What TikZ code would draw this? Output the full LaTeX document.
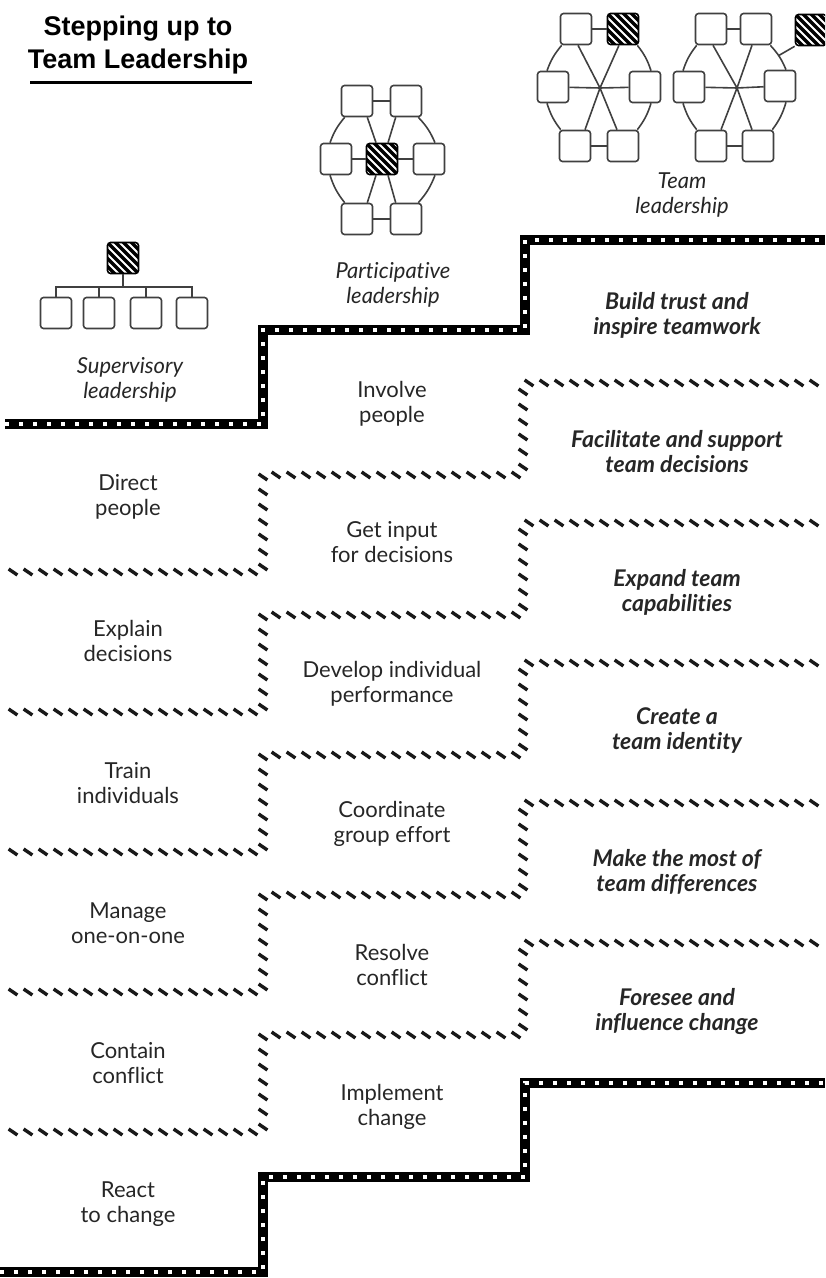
\documentclass[tikz,border=0pt]{standalone}
\usepackage{fontspec}
\setmainfont{Lato}[Ligatures=NoCommon]
\newfontfamily\headfont{Liberation Sans}
\usetikzlibrary{calc, decorations.markings}

\begin{document}
\begin{tikzpicture}[x=0.5pt, y=-0.5pt,
  box/.style={rectangle, draw=black!75, line width=0.8pt, fill=white, rounded corners=1.5pt, minimum size=15.5pt, inner sep=0pt},
  leadbox/.style={box, draw=black, fill=black, path picture={
      \foreach \k in {-5,...,4}
        \draw[white, line width=1pt] ($(path picture bounding box.north west)+(\k*4pt,2pt)$) -- ++(20pt,-20pt);}},
  link/.style={draw=black!75, line width=0.8pt},
  headline/.style={align=center, font=\headfont\bfseries\fontsize{13.5}{16.5}\selectfont},
  stepnote/.style={align=center, text=black!85, font=\fontsize{11}{12.5}\selectfont},
  teamnote/.style={stepnote, font=\fontsize{11.5}{12.5}\selectfont\bfseries\itshape},
  levelname/.style={stepnote, font=\fontsize{11}{12.5}\selectfont\itshape},
  stairline/.style={white, line width=2pt, dash pattern=on 2pt off 5pt, preaction={draw, black, solid, line width=5pt}},
  hatchline/.style={postaction={decorate, decoration={markings, mark=between positions 0 and 1 step 7.5pt with {\pgftransformresetnontranslations \draw[line width=1.7pt, black!90] (-2.2pt,1.5pt) -- (2.2pt,-1.5pt);}}}},
]
  \clip (0,0) rectangle (825,1278);

  % title
  \node[headline] (title) at (138,45) {Stepping up to\\Team Leadership};
  \draw[line width=1.5pt] (30,83) -- (252,83);

  % stairs
  \draw[stairline] (5,424) -- (263,424) -- (263,330) -- (525,330) -- (525,240) -- (825,240);
  \foreach \yl/\ym/\yr in {572/475/383, 712/615/523, 852/755/663, 992/895/803, 1132/1035/943}
    \path[hatchline] (13,\yl) -- (263,\yl) -- (263,\ym) -- (523,\ym) -- (523,\yr) -- (815,\yr);
  \draw[stairline] (0,1272) -- (263,1272) -- (263,1177) -- (525,1177) -- (525,1083) -- (825,1083);

  % supervisory
  \node[leadbox] (sd) at (123,258) {};
  \node[box] (s1) at (56,313) {};
  \node[box] (s2) at (99,313) {};
  \node[box] (s3) at (146,313) {};
  \node[box] (s4) at (192,313) {};
  \coordinate (sbus) at (123,287);
  \draw[link] (sd) -- (sbus);
  \draw[link] (s1.north) |- (sbus) -| (s4.north);
  \draw[link] (s2.north) -- (s2.north |- sbus);
  \draw[link] (s3.north) -- (s3.north |- sbus);

  % participative
  \node[box] (p1) at (357,101) {};
  \node[box] (p2) at (406,101) {};
  \node[box] (p3) at (336,159) {};
  \node[leadbox] (pc) at (382,159) {};
  \node[box] (p4) at (429,159) {};
  \node[box] (p5) at (357,219) {};
  \node[box] (p6) at (406,219) {};
  \draw[link] (p1) -- (p2);
  \draw[link] (p5) -- (p6);
  \draw[link] (p3) -- (pc) -- (p4);
  \draw[link] ([xshift=-3pt]p1.south east) -- ([xshift=-3pt]pc.north);
  \draw[link] ([xshift=3pt]p2.south west) -- ([xshift=3pt]pc.north);
  \draw[link] ([xshift=-3pt]p5.north east) -- ([xshift=-3pt]pc.south);
  \draw[link] ([xshift=3pt]p6.north west) -- ([xshift=3pt]pc.south);
  \draw[link] ([xshift=2pt]p1.south west) to[bend right=10] ([xshift=-3pt]p3.north);
  \draw[link] ([xshift=-3pt]p3.south) to[bend right=10] ([xshift=2pt]p5.north west);
  \draw[link] ([xshift=-2pt]p2.south east) to[bend left=10] ([xshift=3pt]p4.north);
  \draw[link] ([xshift=3pt]p4.south) to[bend left=10] ([xshift=-2pt]p6.north east);

  % team, first group
  \coordinate (tah) at (600,88);
  \node[box] (ta1) at (576,29) {};
  \node[leadbox] (ta2) at (623,29) {};
  \node[box] (ta3) at (553,87) {};
  \node[box] (ta4) at (645,87) {};
  \node[box] (ta5) at (575,146) {};
  \node[box] (ta6) at (623,146) {};
  \draw[link] (ta1) -- (ta2);
  \draw[link] (ta5) -- (ta6);
  \draw[link] (ta3) -- (tah) -- (ta4);
  \draw[link] ([xshift=1pt]ta1.south) -- (tah) -- ([xshift=-2pt]ta2.south);
  \draw[link] ([xshift=5pt]ta5.north) -- (tah) -- ([xshift=-3pt]ta6.north);
  \draw[link] ([xshift=1pt]ta1.south west) to[bend right=10] ([xshift=-3pt]ta3.north);
  \draw[link] ([xshift=-3pt]ta3.south) to[bend right=10] ([xshift=1pt]ta5.north west);
  \draw[link] ([xshift=-1pt]ta2.south east) to[bend left=10] ([xshift=3pt]ta4.north);
  \draw[link] ([xshift=3pt]ta4.south) to[bend left=10] ([xshift=-1pt]ta6.north east);

  % team, second group
  \coordinate (tbh) at (737,88);
  \node[box] (tb1) at (711,29) {};
  \node[box] (tb2) at (756,29) {};
  \node[box] (tb3) at (689,87) {};
  \node[box] (tb4) at (780,86) {};
  \node[box] (tb5) at (711,146) {};
  \node[box] (tb6) at (758,146) {};
  \node[leadbox] (tbd) at (811,30) {};
  \draw[link] (tb1) -- (tb2);
  \draw[link] (tb5) -- (tb6);
  \draw[link] (tb3) -- (tbh) -- (tb4);
  \draw[link] ([xshift=1pt]tb1.south) -- (tbh) -- ([xshift=-2pt]tb2.south);
  \draw[link] ([xshift=5pt]tb5.north) -- (tbh) -- ([xshift=-3pt]tb6.north);
  \draw[link] ([xshift=1pt]tb1.south west) to[bend right=10] ([xshift=-3pt]tb3.north);
  \draw[link] ([xshift=-3pt]tb3.south) to[bend right=10] ([xshift=1pt]tb5.north west);
  \draw[link] ([xshift=-1pt]tb2.south east) to[bend left=10] coordinate[pos=0.45] (tbj) ([xshift=3pt]tb4.north);
  \draw[link] ([xshift=3pt]tb4.south) to[bend left=10] ([xshift=-1pt]tb6.north east);
  \draw[link] (tbj) -- (tbd.south west);

  % level names
  \node[levelname] (lev1) at (130,380) {Supervisory\\leadership};
  \node[levelname] (lev2) at (393,285) {Participative\\leadership};
  \node[levelname] (lev3) at (682,195) {Team\\leadership};

  % supervisory steps
  \node[stepnote] (l1) at (128,497) {Direct\\people};
  \node[stepnote] (l2) at (128,641) {Explain\\decisions};
  \node[stepnote] (l3) at (128,783) {Train\\individuals};
  \node[stepnote] (l4) at (128,923) {Manage\\one-on-one};
  \node[stepnote] (l5) at (128,1063) {Contain\\conflict};
  \node[stepnote] (l6) at (128,1204) {React\\to change};

  % participative steps
  \node[stepnote] (m1) at (392,404) {Involve\\people};
  \node[stepnote] (m2) at (392,542) {Get input\\for decisions};
  \node[stepnote] (m3) at (392,684) {Develop individual\\performance};
  \node[stepnote] (m4) at (392,824) {Coordinate\\group effort};
  \node[stepnote] (m5) at (392,965) {Resolve\\conflict};
  \node[stepnote] (m6) at (392,1107) {Implement\\change};

  % team steps
  \node[teamnote] (r1) at (677,315) {Build trust and\\inspire teamwork};
  \node[teamnote] (r2) at (677,452) {Facilitate and support\\team decisions};
  \node[teamnote] (r3) at (677,592) {Expand team\\capabilities};
  \node[teamnote] (r4) at (677,731) {Create a\\team identity};
  \node[teamnote] (r5) at (677,872) {Make the most of\\team differences};
  \node[teamnote] (r6) at (677,1012) {Foresee and\\influence change};
\end{tikzpicture}
\end{document}
